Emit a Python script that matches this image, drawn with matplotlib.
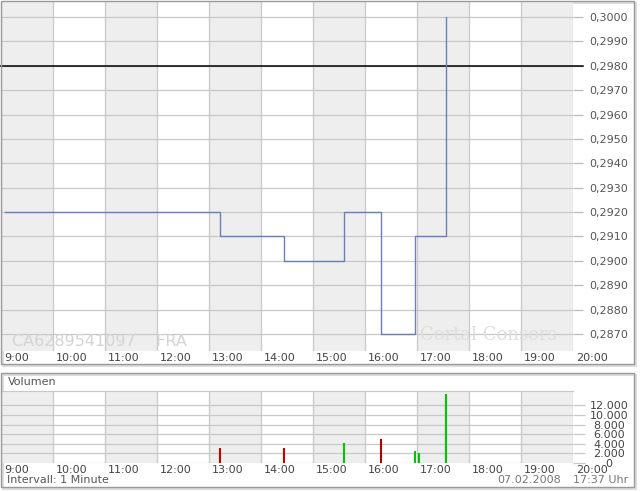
import numpy as np
import matplotlib
matplotlib.use("Agg")
from matplotlib import pyplot as plt
from matplotlib.patches import Rectangle

# trades of the day (time, price, volume)
trade_times = ["09:05", "13:13", "14:26", "15:36", "16:18", "16:58", "17:02", "17:34"]
trade_prices = [0.2920, 0.2910, 0.2900, 0.2920, 0.2870, 0.2910, 0.2910, 0.3000]
trade_volumes = [0, 3200, 3200, 4200, 5000, 2500, 2100, 14400]
bar_colors = ["#00c000", "#c80000", "#c80000", "#00c800", "#b00000", "#00c800", "#00c800", "#00c800"]

hour_labels = ["9:00", "10:00", "11:00", "12:00", "13:00", "14:00", "15:00",
               "16:00", "17:00", "18:00", "19:00", "20:00"]
price_ticks = [0.2870, 0.2880, 0.2890, 0.2900, 0.2910, 0.2920, 0.2930,
               0.2940, 0.2950, 0.2960, 0.2970, 0.2980, 0.2990, 0.3000]
ref_price = 0.2980
vol_ticks = [0, 2000, 4000, 6000, 8000, 10000, 12000]

W, H = 640, 492
GRID = "#c8c8c8"
SHADE = "#eeeeee"
TXT = "#555555"


def to_hours(t):
    h, m = t.split(":")
    return int(h) + int(m) / 60.0


def px_box(x0, y0, x1, y1):
    return [x0 / W, 1 - y1 / H, (x1 - x0) / W, (y1 - y0) / H]


def frame(x0, y0, x1, y1):
    shadow = Rectangle((x0 / W + 2 / W, 1 - y1 / H - 2 / H), (x1 - x0) / W, (y1 - y0) / H,
                       transform=fig.transFigure, fill=False, ec="#dddddd", lw=1.5, zorder=0)
    box = Rectangle((x0 / W, 1 - y1 / H), (x1 - x0) / W, (y1 - y0) / H,
                    transform=fig.transFigure, fill=False, ec="#999999", lw=1.0, zorder=5)
    fig.add_artist(shadow)
    fig.add_artist(box)


hrs = np.array([to_hours(t) for t in trade_times])
hour_pos = np.arange(9, 9 + len(hour_labels))

plt.rcParams["font.family"] = "DejaVu Sans"
fig = plt.figure(figsize=(W / 100, H / 100), dpi=100)
fig.patch.set_facecolor("white")

ax = fig.add_axes(px_box(1, 1, 573, 351))
axv = fig.add_axes(px_box(1, 391, 573, 463))

for a in (ax, axv):
    a.set_xlim(9, 20)
    for h in hour_pos[:-1:2]:
        a.axvspan(h, h + 1, color=SHADE, lw=0, zorder=0)
    a.set_xticks(hour_pos)
    a.set_xticklabels([])
    a.tick_params(axis="x", length=0)
    a.grid(True, color=GRID, lw=0.9, zorder=1)
    a.set_axisbelow(True)
    for s in a.spines.values():
        s.set_visible(False)
    a.yaxis.tick_right()
    for h, lab in zip(hour_pos, hour_labels):
        a.annotate(lab, xy=(h, 0), xycoords=("data", "axes fraction"),
                   xytext=(3, -7), textcoords="offset pixels",
                   ha="left", va="center", fontsize=8, color="#444444")

# price panel
ax.set_ylim(0.286303, 0.300656)
ax.set_yticks(price_ticks)
ax.set_yticklabels([f"{v:.4f}".replace(".", ",") for v in price_ticks])
ax.tick_params(axis="y", length=7, width=0.9, color="#bbbbbb", pad=18.9,
               labelsize=8, labelcolor=TXT)
for lbl in ax.get_yticklabels():
    lbl.set_ha("center")

ax.axhline(ref_price, xmin=-1 / 572, xmax=582 / 572, color="black", lw=1.1,
           clip_on=False, zorder=3)
ax.step(hrs, trade_prices, where="post", color="#6a7fb5", lw=1.0, zorder=4)

ax.text(11 / 572, 10 / 350, "CA6289541097    FRA", transform=ax.transAxes,
        fontsize=11.5, color="#d4d4d4", ha="left", va="center", zorder=2)
ax.text(419 / 572, 16 / 350, "Cortal Consors", transform=ax.transAxes,
        fontsize=13, color="#dedede", ha="left", va="center",
        family="DejaVu Serif", zorder=2)

# volume panel
axv.set_ylim(0, 15000)
axv.set_yticks(vol_ticks)
axv.set_yticklabels([f"{v:,}".replace(",", ".") for v in vol_ticks])
axv.tick_params(axis="y", length=8.5, width=0.9, color=GRID, pad=17.5,
                labelsize=8, labelcolor="#444444")
for lbl in axv.get_yticklabels():
    lbl.set_ha("center")
axv.spines["top"].set_visible(True)
axv.spines["top"].set_color(GRID)
axv.vlines(hrs, 0, trade_volumes, colors=bar_colors, lw=1.5, zorder=4)

frame(1, 1, 634, 364)
frame(1, 373, 634, 487)

fig.text(8 / W, 1 - 382 / H, "Volumen", fontsize=8, color=TXT, va="center")
fig.text(7 / W, 1 - 480 / H, "Intervall: 1 Minute", fontsize=8, color=TXT, va="center")
fig.text(497 / W, 1 - 480 / H, "07.02.2008", fontsize=8, color="#777777", va="center")
fig.text(628 / W, 1 - 480 / H, "17:37 Uhr", fontsize=8, color="#777777", va="center", ha="right")

fig.savefig("out.png", dpi=100)
